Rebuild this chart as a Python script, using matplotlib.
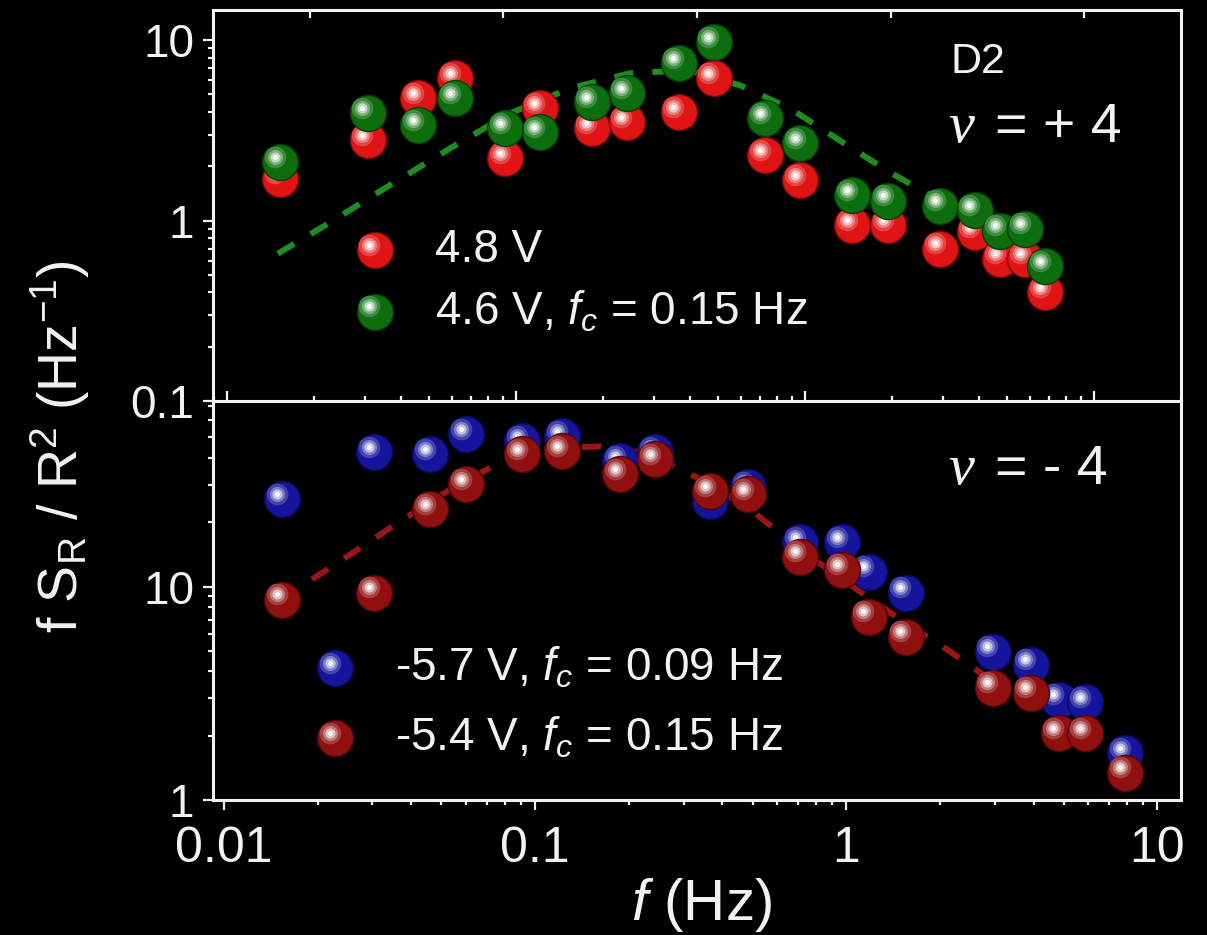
import numpy as np
import matplotlib
matplotlib.use('Agg')
import matplotlib.pyplot as plt
from matplotlib import transforms
from matplotlib.colors import to_rgb
from matplotlib.ticker import LogLocator, FuncFormatter, NullFormatter

plt.rcParams['font.family'] = ['Liberation Sans', 'DejaVu Sans']
plt.rcParams['mathtext.fontset'] = 'custom'
plt.rcParams['mathtext.rm'] = 'Liberation Sans'
plt.rcParams['mathtext.it'] = 'Liberation Sans:italic'

# ===== DANE: panel gorny (nu = +4) =====
f_top = [0.0153, 0.0307, 0.0458, 0.0615, 0.0916, 0.121, 0.183, 0.242, 0.366, 0.484,
         0.727, 0.962, 1.455, 1.94, 2.93, 3.87, 4.73, 5.77, 6.77]
top_48V = [1.71, 2.78, 4.76, 6.15, 2.21, 4.19, 3.24, 3.50, 3.98, 6.15,
           2.30, 1.67, 0.94, 0.94, 0.70, 0.86, 0.615, 0.615, 0.40]
top_46V = [2.10, 3.93, 3.37, 4.76, 3.24, 3.08, 4.53, 5.08, 7.45, 9.75,
           3.69, 2.68, 1.38, 1.29, 1.21, 1.14, 0.88, 0.90, 0.56]
fit_top_f = [0.0150, 0.0227, 0.0366, 0.0591, 0.0953, 0.154, 0.248, 0.400, 0.596,
             0.887, 1.32, 1.97, 2.93]
fit_top_y = [0.656, 0.975, 1.57, 2.51, 3.93, 5.41, 6.56, 6.81, 5.62,
             4.19, 2.78, 1.85, 1.29]

# ===== DANE: panel dolny (nu = -4) =====
f_bot = [0.0154, 0.0304, 0.0459, 0.0600, 0.0908, 0.122, 0.188, 0.243, 0.365, 0.484,
         0.711, 0.971, 1.18, 1.55, 2.95, 3.91, 4.81, 5.87, 7.89]
bot_57V = [25.6, 42.6, 41.7, 51.7, 48.0, 50.6, 38.6, 42.6, 25.1, 29.2,
           16.1, 16.1, 11.75, 9.37, 4.95, 4.30, 2.95, 2.88, 1.66]
bot_54V = [8.69, 9.37, 23.0, 30.1, 41.7, 43.0, 33.6, 39.5, 27.9, 27.0,
           13.8, 12.0, 7.23, 5.83, 3.36, 3.18, 2.06, 2.06, 1.34]
fit_bot_f = [0.0192, 0.0254, 0.0368, 0.0533, 0.0772, 0.104, 0.162, 0.234, 0.340,
             0.491, 0.711, 1.03, 1.49, 2.16, 2.90]
fit_bot_y = [10.8, 14.1, 20.2, 28.5, 38.2, 44.0, 45.4, 41.7, 31.8,
             23.0, 14.9, 10.2, 7.0, 4.95, 3.66]

RED = '#e01414'
GREEN = '#0c6e0c'
BLUE = '#14149c'
DARKRED = '#901010'
FG = '#f2f2f2'

fig = plt.figure(figsize=(12.07, 9.35), dpi=100, facecolor='black')
W, H = 1207, 935
ax2 = fig.add_axes([213 / W, 1 - 800 / H, 968 / W, 399 / H])
ax1 = fig.add_axes([213 / W, 1 - 401 / H, 968 / W, 391 / H])


def sphere(ax, x, y, color, size=36, transform=None, zorder=3):
    # kulka: baza + rozjasnienie przesuniete w lewo-gore
    tr = ax.transData if transform is None else transform
    base = np.array(to_rgb(color))
    ax.scatter(x, y, s=(size * 0.72) ** 2, color=base, edgecolors=[base * 0.55],
               linewidths=1.0, transform=tr, zorder=zorder, clip_on=False)
    off = transforms.offset_copy(tr, fig=ax.figure, x=-size * 0.15, y=size * 0.15, units='dots')
    for frac, mix in [(0.6, 0.2), (0.42, 0.45), (0.28, 0.75), (0.14, 0.97)]:
        col = base + (1 - base) * mix
        ax.scatter(x, y, s=(size * frac * 0.72) ** 2, color=col, linewidths=0,
                   transform=off, zorder=zorder + 0.1, clip_on=False)


fmt = FuncFormatter(lambda v, p: f'{v:g}')

for ax in (ax1, ax2):
    ax.patch.set_visible(False)
    ax.set_xscale('log')
    ax.set_yscale('log')
    for s in ax.spines.values():
        s.set_color(FG)
        s.set_linewidth(2.2)
    ax.yaxis.set_major_locator(LogLocator(base=10))
    ax.yaxis.set_minor_locator(LogLocator(base=10, subs=np.arange(2, 10)))
    ax.yaxis.set_major_formatter(fmt)
    ax.yaxis.set_minor_formatter(NullFormatter())
    ax.xaxis.set_major_locator(LogLocator(base=10))
    ax.xaxis.set_minor_locator(LogLocator(base=10, subs=np.arange(2, 10)))
    ax.xaxis.set_major_formatter(fmt)
    ax.xaxis.set_minor_formatter(NullFormatter())
    ax.tick_params(axis='y', which='both', direction='out', right=False, colors=FG,
                   labelsize=33, width=1.6, pad=6)
    ax.tick_params(axis='y', which='major', length=7.5)
    ax.tick_params(axis='y', which='minor', length=3.8)

# --- gorny panel ---
ax1.set_xlim(0.00895, 20.0)
ax1.set_ylim(0.1, 14.7)
ax1.tick_params(axis='x', which='both', direction='in', top=False, labelbottom=False,
                colors=FG, width=1.6)
ax1.tick_params(axis='x', which='major', length=7)
ax1.tick_params(axis='x', which='minor', length=3.5)
ax1t = ax1.twiny()
ax1t.set_xlim(0, 1)
ax1t.set_xticks([0.1, 0.3, 0.5, 0.7, 0.9])
ax1t.tick_params(axis='x', direction='in', length=6, width=1.6, colors=FG, labeltop=False)
for s in ax1t.spines.values():
    s.set_visible(False)

ax1.plot(fit_top_f, fit_top_y, color='#1e8c1e', lw=4.3, dashes=(3.2, 3.2), zorder=2)
sphere(ax1, f_top, top_48V, RED)
sphere(ax1, f_top, top_46V, GREEN, zorder=4)

# --- dolny panel ---
ax2.set_xlim(0.00922, 11.9)
ax2.set_ylim(1, 74)
ax2.spines['top'].set_visible(False)
ax2.tick_params(axis='x', which='both', direction='out', top=False, colors=FG,
                labelsize=36, width=1.6, pad=11)
ax2.tick_params(axis='x', which='major', length=7.5)
ax2.tick_params(axis='x', which='minor', length=3.8)

ax2.plot(fit_bot_f, fit_bot_y, color='#9a1616', lw=4.3, dashes=(3.2, 3.2), zorder=2)
sphere(ax2, f_bot, bot_57V, BLUE)
sphere(ax2, f_bot, bot_54V, DARKRED, zorder=4)

# --- legendy ---
def legend_row(ax, xm, xt, y, color, text):
    sphere(ax, [xm], [y], color, transform=ax.transAxes, zorder=6)
    ax.text(xt, y, text, transform=ax.transAxes, color=FG, fontsize=33, va='center', ha='left')


legend_row(ax1, 0.167, 0.229, 0.386, RED, '4.8 V')
legend_row(ax1, 0.167, 0.229, 0.228, GREEN, r'4.6 V, $f_c$ = 0.15 Hz')
legend_row(ax2, 0.126, 0.188, 0.331, BLUE, r'-5.7 V, $f_c$ = 0.09 Hz')
legend_row(ax2, 0.126, 0.188, 0.155, DARKRED, r'-5.4 V, $f_c$ = 0.15 Hz')

# --- opisy ---
ax1.text(0.762, 0.867, 'D2', transform=ax1.transAxes, color=FG, fontsize=31, va='center')
for ax, yy, txt in [(ax1, 0.698, '= + 4'), (ax2, 0.827, '= - 4')]:
    ax.text(0.759, yy, '\u03bd', transform=ax.transAxes, color=FG, fontsize=42,
            family='Liberation Serif', style='italic', va='center')
    ax.text(0.808, yy, txt, transform=ax.transAxes, color=FG, fontsize=40, va='center')

fig.text(0.05, 0.522, r'f S$_\mathrm{R}$ / R$^2$ (Hz$^{-1}$)', rotation=90, color=FG,
         fontsize=40, ha='center', va='center')
fig.text(701 / W, 1 - 905 / H, r'$f$ (Hz)', color=FG, fontsize=42, ha='center', va='center')

fig.savefig('out.png', dpi=100, facecolor='black')
